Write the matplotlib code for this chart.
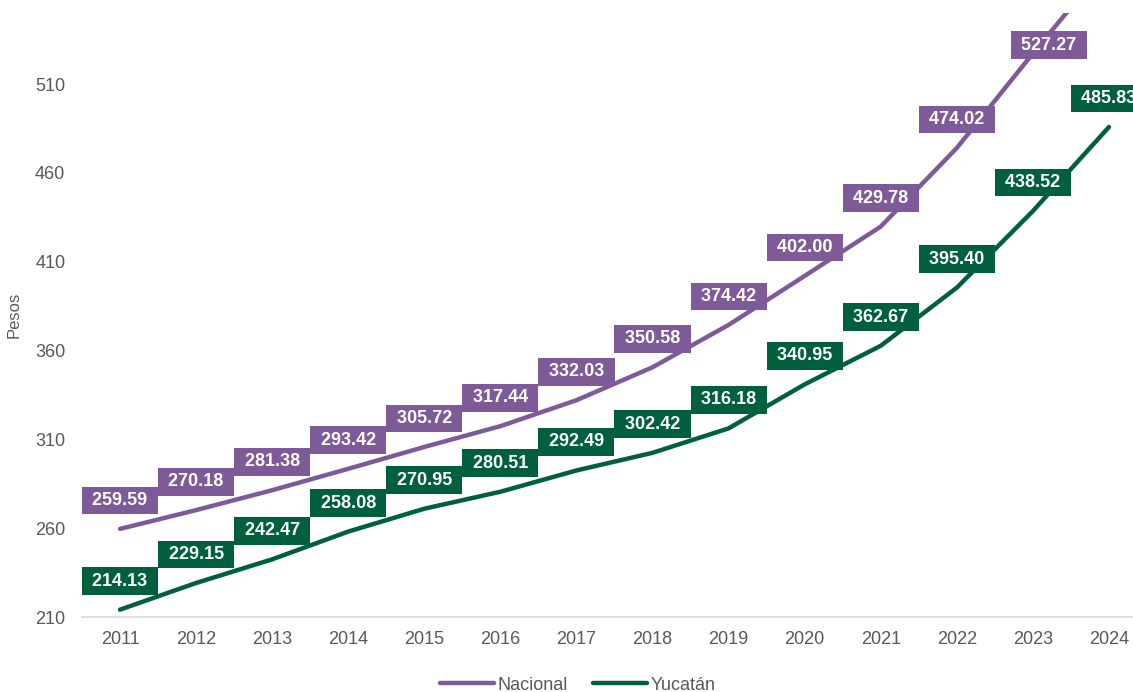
import matplotlib
matplotlib.use("Agg")
import matplotlib.pyplot as plt

plt.rcParams['font.family'] = ['Liberation Sans', 'DejaVu Sans']

years = [2011, 2012, 2013, 2014, 2015, 2016, 2017, 2018, 2019, 2020, 2021, 2022, 2023, 2024]
nacional = [259.59, 270.18, 281.38, 293.42, 305.72, 317.44, 332.03, 350.58, 374.42,
            402.00, 429.78, 474.02, 527.27, 579.0]
yucatan = [214.13, 229.15, 242.47, 258.08, 270.95, 280.51, 292.49, 302.42, 316.18,
           340.95, 362.67, 395.40, 438.52, 485.83]
yticks = [210, 260, 310, 360, 410, 460, 510]

c_nac = '#7F5A99'
c_yuc = '#005F3C'
gray = '#595959'

fig = plt.figure(figsize=(11.33, 6.92), dpi=100)
ax = fig.add_axes([82/1133, 1-617/692, (1147-82)/1133, (617-13)/692])

ax.plot(years, nacional, color=c_nac, lw=3.2, solid_capstyle='round', label='Nacional', zorder=2)
ax.plot(years, yucatan, color=c_yuc, lw=3.2, solid_capstyle='round', label='Yucatán', zorder=2)

def labels(vals, color):
    for i, (x, v) in enumerate(zip(years, vals)):
        off = (0, 20.5)
        if color == c_nac and x == 2023:
            off = (11.5, 6)
        ax.annotate(f' {v:.2f} ', (x, v), xytext=off, textcoords='offset points',
                    ha='center', va='center', color='white', fontsize=13, fontweight='bold',
                    bbox=dict(boxstyle='square,pad=0.3', fc=color, ec='none'), zorder=3)

labels(nacional, c_nac)
labels(yucatan, c_yuc)

ax.set_xlim(2010.5, 2024.5)
ax.set_ylim(210, 550)
ax.set_xticks(years)
ax.set_yticks(yticks)
ax.tick_params(axis='both', length=0, labelsize=13, colors=gray)
ax.tick_params(axis='y', pad=12)
ax.tick_params(axis='x', pad=10)
for s in ['top', 'right', 'left']:
    ax.spines[s].set_visible(False)
ax.spines['bottom'].set_color('#D9D9D9')
ax.spines['bottom'].set_linewidth(1.2)
ax.set_ylabel('Pesos', fontsize=12, color=gray, labelpad=10)

fig.legend(loc='center', bbox_to_anchor=(578/1133, 1-685/692), ncol=2, frameon=False,
           fontsize=13, handlelength=3.0, handletextpad=0.2, columnspacing=1.4,
           labelcolor=gray)

fig.savefig('out.png', dpi=100)
